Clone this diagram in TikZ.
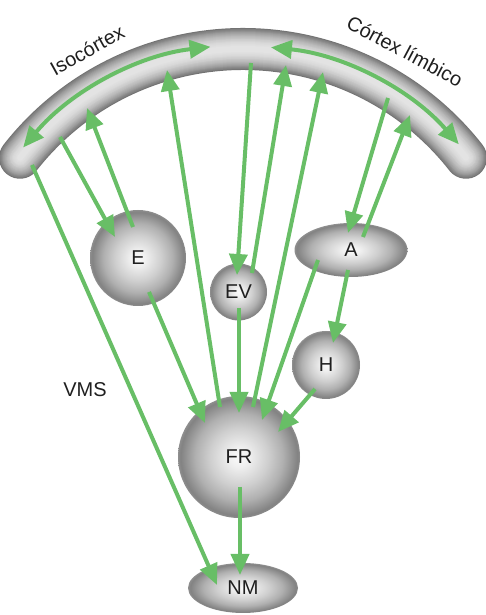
\documentclass[tikz,border=0pt]{standalone}
\usepackage{fontspec}
\setmainfont{Liberation Sans}
\usetikzlibrary{arrows.meta,shapes.geometric,calc}
\definecolor{arrowgreen}{RGB}{104,190,102}
\pgfdeclareradialshading{ballshade}{\pgfpoint{0bp}{0bp}}{color(0bp)=(black!2); color(4bp)=(black!6); color(12bp)=(black!19); color(18bp)=(black!31); color(22bp)=(black!43); color(24bp)=(black!49); color(25bp)=(black!44); color(50bp)=(black!44)}
\begin{document}
\begin{tikzpicture}[x=1pt,y=1pt,
  txt/.style={font=\fontsize{20}{24}\selectfont, text=black!88},
  ball/.style={circle, shading=ballshade, inner sep=0pt, txt},
  oval/.style={ellipse, shading=ballshade, inner sep=0pt, txt},
  conn/.style={draw=arrowgreen, line width=4pt, -{Triangle[length=21pt,width=18pt]}},
  dconn/.style={draw=arrowgreen, line width=4pt, {Triangle[length=21pt,width=18pt]}-{Triangle[length=21pt,width=18pt]}},
  band/.style={line cap=round}]
\useasboundingbox (0,0) rectangle (486,615);
% cortex band
\coordinate (C) at (243,283);
\foreach \w in {42,40,...,4}{
  \pgfmathtruncatemacro\c{11+44*(\w/42)^2}
  \draw[band, line width=\w pt, black!\c] ($(C)+(142:283)$) arc[start angle=142, end angle=38, radius=283];
}
% labels
\node[txt, rotate=29] (iso) at (87,565) {Isocórtex};
\node[txt, rotate=-28] (lim) at (405,564) {Córtex límbico};
\node[txt] (vms) at (85,225) {VMS};
% nodes
\node[ball, minimum size=96pt] (E) at (138,357) {E};
\node[ball, minimum size=57pt] (EV) at (238.5,323) {EV};
\node[oval, minimum width=113pt, minimum height=54pt] (A) at (351,365) {A};
\node[ball, minimum size=68pt] (H) at (326,250) {H};
\node[ball, minimum size=122pt] (FR) at (239,158) {FR};
\node[oval, minimum width=110pt, minimum height=50pt] (NM) at (243,27) {NM};
% arcs inside band
\draw[dconn] ($(C)+(140:287)$) arc[start angle=140, end angle=96.5, radius=287];
\draw[dconn] ($(C)+(84.4:286)$) arc[start angle=84.4, end angle=41, radius=286];
% connector end points
\coordinate (c1) at (32,450);
\coordinate (c2) at (60,478);
\coordinate (c3) at (87,507);
\coordinate (c4) at (167,545);
\coordinate (c5) at (251,552);
\coordinate (c6) at (286,550);
\coordinate (c7) at (323,543);
\coordinate (c8) at (388,517);
\coordinate (c9) at (410,500);
\coordinate (nm1) at (217,30);
\coordinate (nm2) at (240,40);
\coordinate (e1) at (115,378);
\coordinate (e2) at (133,388);
\coordinate (e3) at (149,323);
\coordinate (ev1) at (237,340);
\coordinate (ev2) at (252,342);
\coordinate (ev3) at (239,307);
\coordinate (a1) at (348,382);
\coordinate (a2) at (363,378);
\coordinate (a3) at (318,355);
\coordinate (a4) at (348,345);
\coordinate (h1) at (333,272);
\coordinate (h2) at (315,226);
\coordinate (fr1) at (220,208);
\coordinate (fr2) at (253,208);
\coordinate (fr3) at (262,195);
\coordinate (fr4) at (278,183);
\coordinate (fr5) at (205,192);
\coordinate (fr6) at (239,202);
\coordinate (fr7) at (240,128);
% connectors
\draw[conn] (c1) -- (nm1);
\draw[conn] (c2) -- (e1);
\draw[conn] (e2) -- (c3);
\draw[conn] (fr1) -- (c4);
\draw[conn] (c5) -- (ev1);
\draw[conn] (ev2) -- (c6);
\draw[conn] (fr2) -- (c7);
\draw[conn] (c8) -- (a1);
\draw[conn] (a2) -- (c9);
\draw[conn] (a3) -- (fr3);
\draw[conn] (a4) -- (h1);
\draw[conn] (h2) -- (fr4);
\draw[conn] (e3) -- (fr5);
\draw[conn] (ev3) -- (fr6);
\draw[conn] (fr7) -- (nm2);
\end{tikzpicture}
\end{document}
